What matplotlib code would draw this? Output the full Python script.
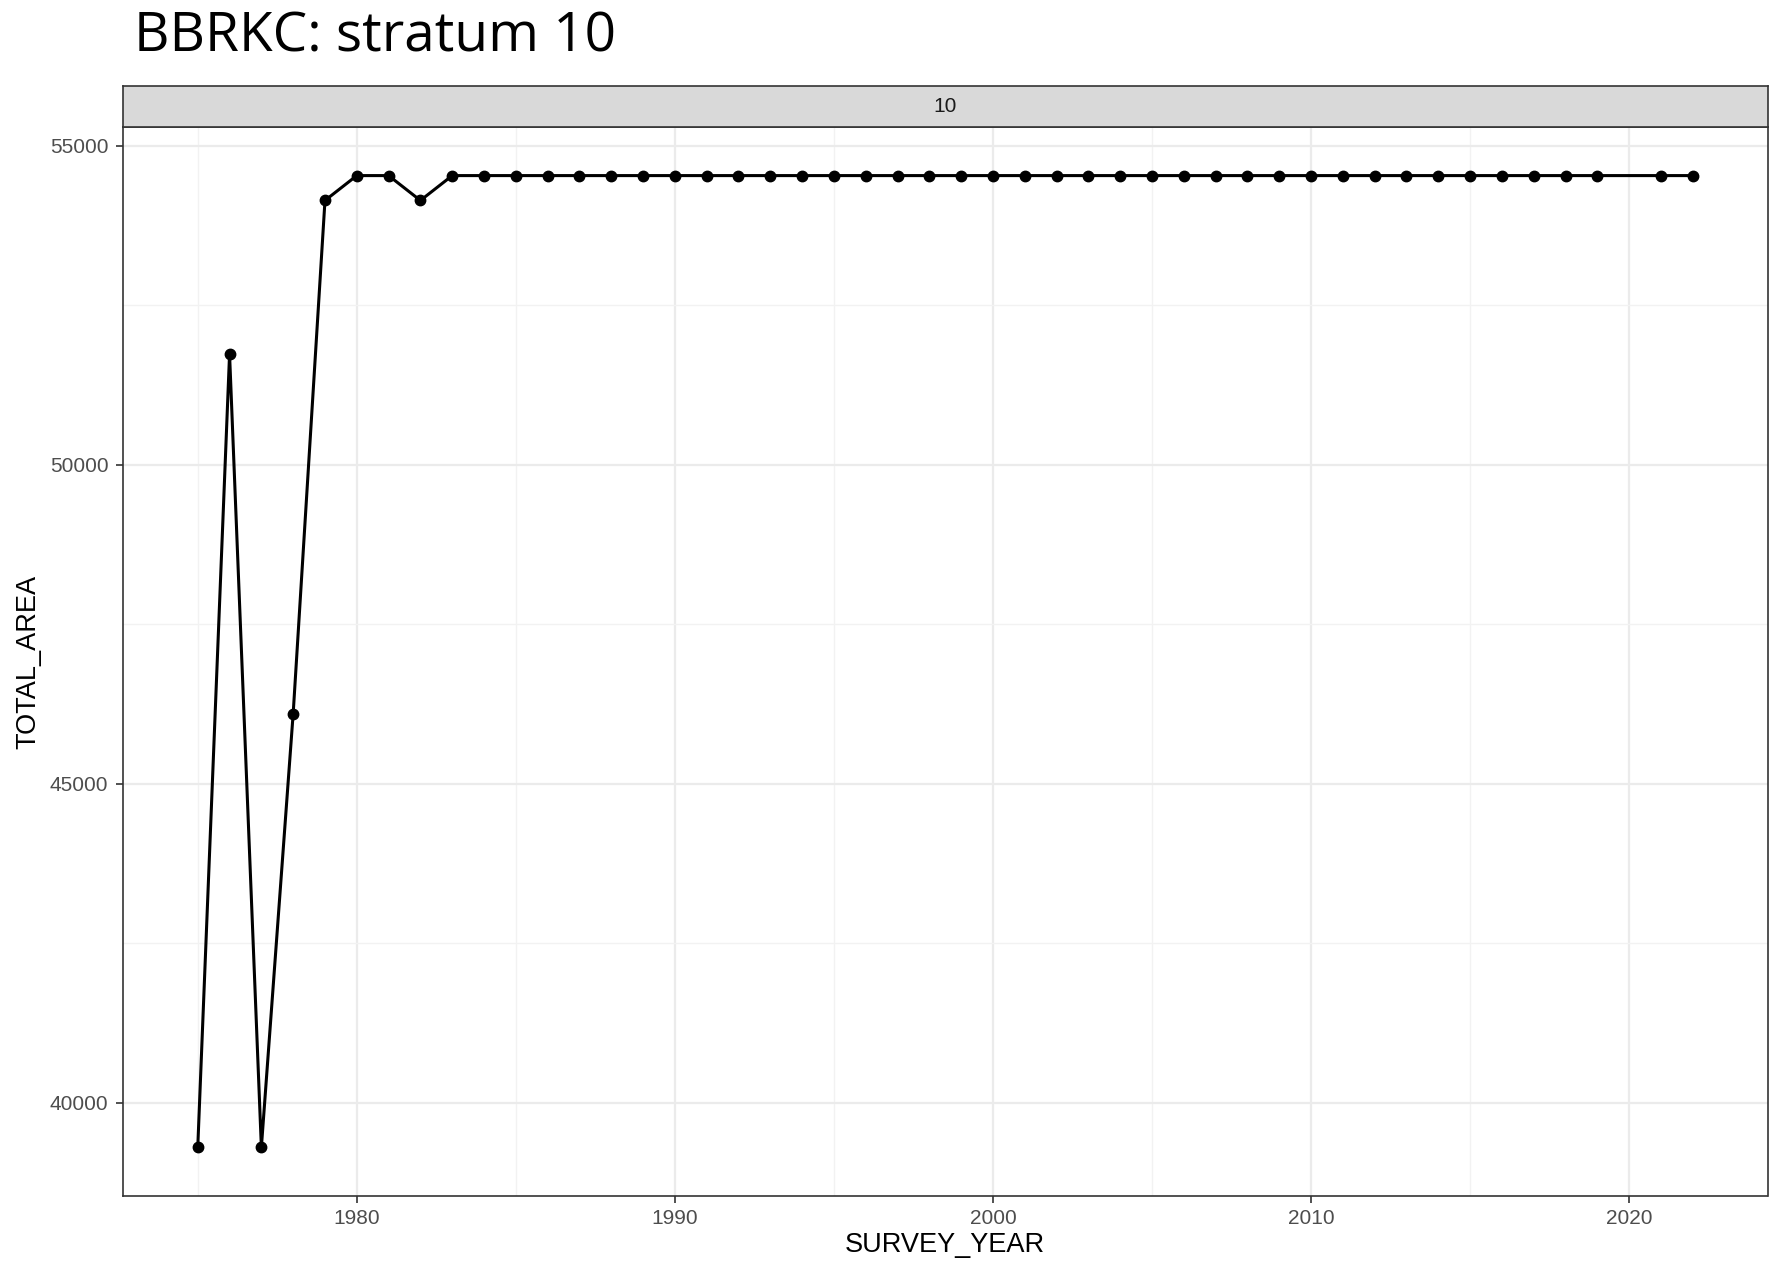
import matplotlib
matplotlib.use("Agg")
import matplotlib.pyplot as plt
from matplotlib.ticker import MultipleLocator
import numpy as np

plt.rcParams["font.family"] = ["Liberation Sans", "DejaVu Sans"]

# Data
years = [1975, 1976, 1977, 1978, 1979, 1980, 1981, 1982] + list(range(1983, 2020)) + [2021, 2022]
area_early = [39300, 51730, 39300, 46100, 54140, 54530, 54530, 54140]
area_plateau = [54530] * (len(range(1983, 2020)) + 2)
total_area = area_early + area_plateau
strip_label = "10"
title = "BBRKC: stratum 10"
xlabel = "SURVEY_YEAR"
ylabel = "TOTAL_AREA"

W, H = 1780, 1262
fig = plt.figure(figsize=(W / 100, H / 100), dpi=100)
fig.patch.set_facecolor("white")

L, R, T, B = 123, 1767.5, 127, 1196
ax = fig.add_axes([L / W, 1 - B / H, (R - L) / W, (B - T) / H])
strip_top = 86
sax = fig.add_axes([L / W, 1 - T / H, (R - L) / W, (T - strip_top) / H])

ax.plot(years, total_area, color="black", lw=2.2, marker="o", ms=7.5, zorder=3)

ymin, ymax = min(total_area), max(total_area)
ypad = (ymax - ymin) * 0.05
ax.set_ylim(ymin - ypad, ymax + ypad)
xmin, xmax = min(years), max(years)
xpad = (xmax - xmin) * 0.05
ax.set_xlim(xmin - xpad, xmax + xpad)

ax.xaxis.set_major_locator(MultipleLocator(10))
ax.xaxis.set_minor_locator(MultipleLocator(5))
ax.yaxis.set_major_locator(MultipleLocator(5000))
ax.yaxis.set_minor_locator(MultipleLocator(2500))
ax.grid(which="major", color="#EBEBEB", lw=1.6, zorder=0)
ax.grid(which="minor", color="#F2F2F2", lw=1.0, zorder=0)
ax.set_axisbelow(True)
for s in ax.spines.values():
    s.set_color("#333333")
    s.set_linewidth(1.2)
ax.tick_params(axis="both", which="major", length=5, width=1.2, color="#333333",
               labelsize=15, labelcolor="#4D4D4D")
ax.tick_params(axis="x", which="major", pad=4)
ax.tick_params(axis="y", which="major", pad=5.5)
ax.tick_params(axis="both", which="minor", length=0)
ax.set_xlabel(xlabel, fontsize=19.5, color="black")
ax.set_ylabel(ylabel, fontsize=19.5, color="black")
ax.xaxis.label.set_va("center")
ax.yaxis.label.set_va("center")
ax.xaxis.set_label_coords(0.5, (B - 1245) / (B - T))
ax.yaxis.set_label_coords((28 - L) / (R - L), 0.5)

sax.set_facecolor("#D9D9D9")
sax.set_xticks([])
sax.set_yticks([])
for s in sax.spines.values():
    s.set_color("#333333")
    s.set_linewidth(1.2)
sax.text(0.5, 0.5, strip_label, ha="center", va="center", fontsize=15,
         color="#1A1A1A", transform=sax.transAxes)

fig.text(134 / W, 1 - 52 / H, title, fontsize=39.5, family="Open Sans",
         ha="left", va="baseline", color="black")

fig.savefig("out.png", dpi=100)
